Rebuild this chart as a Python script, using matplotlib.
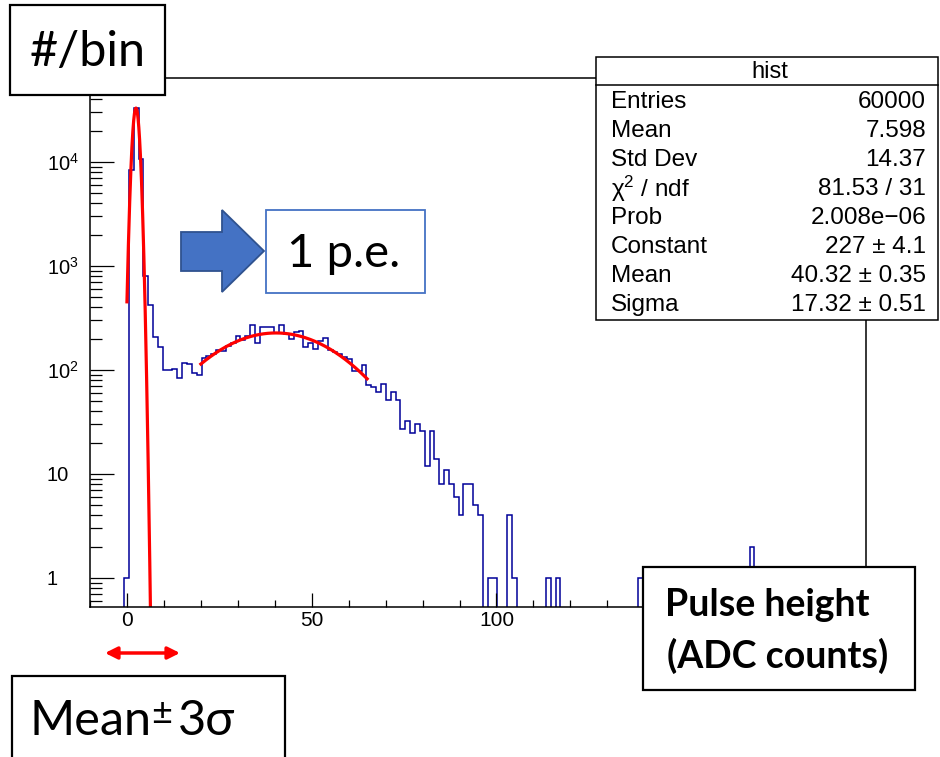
import matplotlib
matplotlib.use('Agg')
import matplotlib.pyplot as plt
import matplotlib.ticker as mticker
from matplotlib.patches import Rectangle, Polygon, FancyArrowPatch
import numpy as np

plt.rcParams['font.family'] = ['Liberation Sans', 'DejaVu Sans']
plt.rcParams['mathtext.fontset'] = 'custom'
plt.rcParams['mathtext.rm'] = 'Liberation Sans'
plt.rcParams['mathtext.it'] = 'Liberation Sans:italic'

# --------------------------------------------------------------
# Data
# --------------------------------------------------------------
hist_range = (-10, 200)
n_bins = 160

# bin contents starting at bin 7 ([-0.81, 0.5])
first_bin = 7
counts_main = [
    1, 8400, 32800, 10600, 807, 422, 206, 166, 99, 101,
    103, 83, 118, 114, 93, 89, 131, 135, 141, 155,
    153, 170, 180, 211, 196, 210, 270, 180, 258, 258,
    257, 225, 272, 222, 197, 232, 235, 165, 180, 158,
    190, 201, 156, 150, 141, 133, 128, 98, 98, 112,
    72, 69, 61, 73, 51, 62, 51, 27, 32, 25,
    30, 26, 12, 26, 14, 8, 11, 8, 6, 4,
    8, 8, 5, 4, 0, 1, 1, 0, 0, 4,
    1,
]

# lonely entries in the tail
tail_bins = [94, 96, 113, 136]
tail_counts = [1, 1, 1, 2]

# pedestal gaussian (estimated) and 1 p.e. gaussian (stats box)
ped_const, ped_mean, ped_sigma = 33000, 2.44, 0.833
ped_range = (0, 7)
pe_const, pe_mean, pe_sigma = 227, 40.32, 17.32
pe_range = (20, 65)

stats_title = 'hist'
stats_labels = ['Entries', 'Mean', 'Std Dev', 'χ$^{2}$ / ndf', 'Prob',
                'Constant', 'Mean', 'Sigma']
stats_values = ['60000', '7.598', '14.37', '81.53 / 31', '2.008e\u221206',
                '227 ± 4.1', '40.32 ± 0.35', '17.32 ± 0.51']

# 150 sits under the axis-title box, so no label there
x_ticks = [0, 50, 100, 150]
x_tick_labels = ['0', '50', '100', '']
y_ticks = [1, 10, 100, 1000, 10000]
y_tick_labels = ['1', '10', '$10^{2}$', '$10^{3}$', '$10^{4}$']


def gauss(x, c, m, s):
    return c * np.exp(-0.5 * ((x - m) / s) ** 2)


W, H = 940, 757
fig = plt.figure(figsize=(W / 100, H / 100), dpi=100)

# --------------------------------------------------------------
# Histogram pad
# --------------------------------------------------------------
ax = fig.add_axes([90 / W, 1 - 607 / H, 776 / W, 529 / H])

edges = np.linspace(hist_range[0], hist_range[1], n_bins + 1)
counts = np.zeros(n_bins)
counts[first_bin:first_bin + len(counts_main)] = counts_main
counts[tail_bins] = tail_counts
ax.stairs(np.where(counts > 0, counts, 1e-3), edges, baseline=None,
          color='#000099', lw=1.1)

xp = np.linspace(ped_range[0], ped_range[1], 400)
ax.plot(xp, gauss(xp, ped_const, ped_mean, ped_sigma), color='red', lw=2.3)
xe = np.linspace(pe_range[0], pe_range[1], 200)
ax.plot(xe, gauss(xe, pe_const, pe_mean, pe_sigma), color='red', lw=2.3)

ax.set_yscale('log')
ax.set_xlim(hist_range)
ax.set_ylim(0.526, 64200)

ax.set_xticks(x_ticks)
ax.set_xticklabels(x_tick_labels)
ax.xaxis.set_minor_locator(mticker.MultipleLocator(10))
ax.set_yticks(y_ticks)
ax.set_yticklabels(y_tick_labels)
ax.yaxis.set_minor_locator(mticker.LogLocator(subs=range(2, 10), numticks=20))
ax.yaxis.set_minor_formatter(mticker.NullFormatter())

ax.tick_params(which='both', direction='in', top=False, right=False, width=0.9)
ax.tick_params(axis='x', which='major', length=10, pad=3, labelsize=15)
ax.tick_params(axis='x', which='minor', length=5)
ax.tick_params(axis='y', which='major', length=17, pad=31, labelsize=14.5)
ax.tick_params(axis='y', which='minor', length=8.6)
for lab in ax.get_yticklabels():
    lab.set_horizontalalignment('left')
for sp in ax.spines.values():
    sp.set_linewidth(1.1)

# --------------------------------------------------------------
# Overlay in pixel coordinates: stats box and slide annotations
# --------------------------------------------------------------
ov = fig.add_axes([0, 0, 1, 1])
ov.set_xlim(0, W)
ov.set_ylim(H, 0)
ov.axis('off')

ov.add_patch(Rectangle((596, 57), 342, 263, fc='white', ec='black', lw=1.1))
ov.plot([596, 938], [85, 85], color='black', lw=1.1)
ov.text(770, 72, stats_title, ha='center', va='center', fontsize=17)
for i, (lab, val) in enumerate(zip(stats_labels, stats_values)):
    y = 102 + i * 29
    ov.text(611, y, lab, ha='left', va='center', fontsize=17.5)
    ov.text(926, y, val, ha='right', va='center', fontsize=17.5)

slide_font = ['Lato', 'Open Sans', 'DejaVu Sans']

# "#/bin" label
ov.add_patch(Rectangle((10, 5), 155, 90, fc='white', ec='black', lw=1.6))
ov.text(88, 52, '#/bin', ha='center', va='center', fontsize=35, family=slide_font)

# blue block arrow + "1 p.e."
ov.add_patch(Polygon([(181, 232), (222, 232), (222, 210), (264, 251),
                      (222, 292), (222, 271), (181, 271)],
                     closed=True, fc='#4472C4', ec='#2F528F', lw=1.3))
ov.add_patch(Rectangle((266, 210), 159, 83, fc='white', ec='#4472C4', lw=1.3))
ov.text(344, 254, '1 p.e.', ha='center', va='center', fontsize=34, family=slide_font)

# axis title box
ov.add_patch(Rectangle((643, 567), 272, 123, fc='white', ec='black', lw=1.6))
ov.text(665, 605, 'Pulse height', ha='left', va='center', fontsize=27,
        fontweight='bold', family=slide_font)
ov.text(667, 656, '(ADC counts)', ha='left', va='center', fontsize=27,
        fontweight='bold', family=slide_font)

# red double arrow + "Mean ± 3σ"
ov.add_patch(FancyArrowPatch((105, 653), (180, 653), arrowstyle='<|-|>',
                             mutation_scale=18, color='red', lw=2.5,
                             shrinkA=0, shrinkB=0))
ov.add_patch(Rectangle((12, 676), 273, 90, fc='white', ec='black', lw=1.6))
ov.text(30, 735, 'Mean', ha='left', va='baseline', fontsize=35, family=slide_font)
ov.text(151, 724, '±', ha='left', va='baseline', fontsize=26, family=slide_font)
ov.text(178, 735, '3σ', ha='left', va='baseline', fontsize=35, family=slide_font)

fig.savefig('out.png', dpi=100)
